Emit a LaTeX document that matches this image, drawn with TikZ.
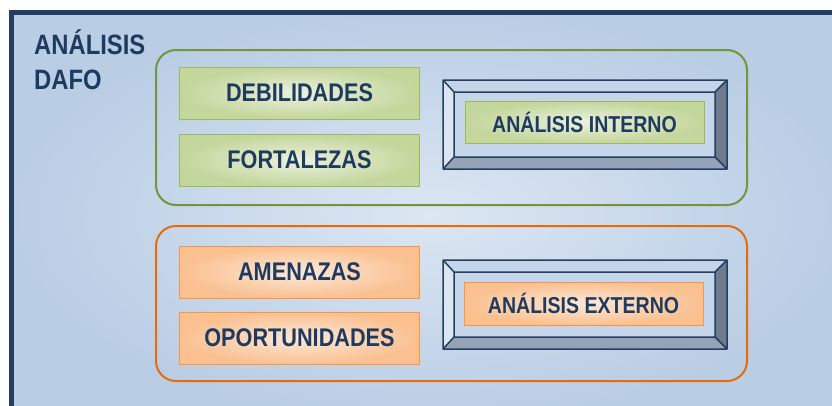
\documentclass[tikz,border=0pt]{standalone}
\usepackage{fontspec}
\setmainfont{Liberation Sans}[FakeStretch=0.85]
\definecolor{navy}{HTML}{1F3A5F}
\definecolor{framec}{HTML}{243F60}
\definecolor{bgblue}{HTML}{B9CDE5}
\definecolor{bglight}{HTML}{DCE6F2}
\definecolor{grnfill}{HTML}{C3D69B}
\definecolor{grnlight}{HTML}{EBF1DE}
\definecolor{grnline}{HTML}{9BBB59}
\definecolor{grndark}{HTML}{77933C}
\definecolor{orgfill}{HTML}{FAC090}
\definecolor{orglight}{HTML}{FDE9D9}
\definecolor{orgline}{HTML}{F79646}
\definecolor{orgdark}{HTML}{E46C0A}
\definecolor{bevleft}{HTML}{DCE6F1}
\definecolor{bevtop}{HTML}{C5D5E9}
\definecolor{bevright}{HTML}{6F7B8E}
\definecolor{bevbottom}{HTML}{95A3B8}
\definecolor{bevface}{HTML}{C6D6EA}
\tikzset{
  group/.style={draw,line width=2pt,rounded corners=20pt,minimum width=591pt,minimum height=155pt},
  item/.style={draw,line width=1pt,minimum width=240pt,minimum height=52pt,text=navy,
    font=\fontsize{25.5}{30}\selectfont\bfseries},
  greenbox/.style={item,draw=grnline,inner color=grnlight,outer color=grnfill},
  orangebox/.style={item,draw=orgline,inner color=orglight,outer color=orgfill},
}
\begin{document}
\begin{tikzpicture}[x=1pt,y=-1pt]
\useasboundingbox (0,0) rectangle (832,405);
\clip (0,0) rectangle (832,405);
% background and frame
\shade[inner color=bglight,outer color=bgblue] (9,10) rectangle (851,420);
\draw[framec,line width=5pt] (11.5,12.5) rectangle (900,500);
\node[anchor=north west,align=left,text=navy,inner sep=0pt,
  font=\fontsize{28}{35}\selectfont\bfseries] (title) at (34,29) {ANÁLISIS\\DAFO};
% groups
\node[group,draw=grndark] (intgrp) at (451.5,127.5) {};
\node[group,draw=orgdark] (extgrp) at (451.5,303.5) {};
\node[greenbox] (deb) at (299.5,93) {DEBILIDADES};
\node[greenbox] (fort) at (299.5,160) {FORTALEZAS};
\node[orangebox] (amen) at (299.5,272) {AMENAZAS};
\node[orangebox] (oport) at (299.5,338) {OPORTUNIDADES};
% bevel frames
\foreach \t in {80,260} {
  \fill[bevface] (454,\t+12) rectangle (715,\t+77);
  \fill[bevleft] (443,\t) -- (454,\t+12) -- (454,\t+77) -- (443,\t+89) -- cycle;
  \fill[bevtop] (443,\t) -- (727,\t) -- (715,\t+12) -- (454,\t+12) -- cycle;
  \fill[bevright] (727,\t) -- (727,\t+89) -- (715,\t+77) -- (715,\t+12) -- cycle;
  \fill[bevbottom] (443,\t+89) -- (727,\t+89) -- (715,\t+77) -- (454,\t+77) -- cycle;
  \draw[framec,line width=1.5pt,line join=round] (443,\t) rectangle (727,\t+89)
    (454,\t+12) rectangle (715,\t+77)
    (443,\t) -- (454,\t+12) (727,\t) -- (715,\t+12)
    (443,\t+89) -- (454,\t+77) (727,\t+89) -- (715,\t+77);
}
\node[greenbox,minimum width=239pt,minimum height=42pt,
  font=\fontsize{23}{27}\selectfont\bfseries] (intlbl) at (584.5,122) {ANÁLISIS INTERNO};
\node[orangebox,minimum width=239pt,minimum height=43pt,
  font=\fontsize{23}{27}\selectfont\bfseries] (extlbl) at (583.5,303.5) {ANÁLISIS EXTERNO};
\end{tikzpicture}
\end{document}
